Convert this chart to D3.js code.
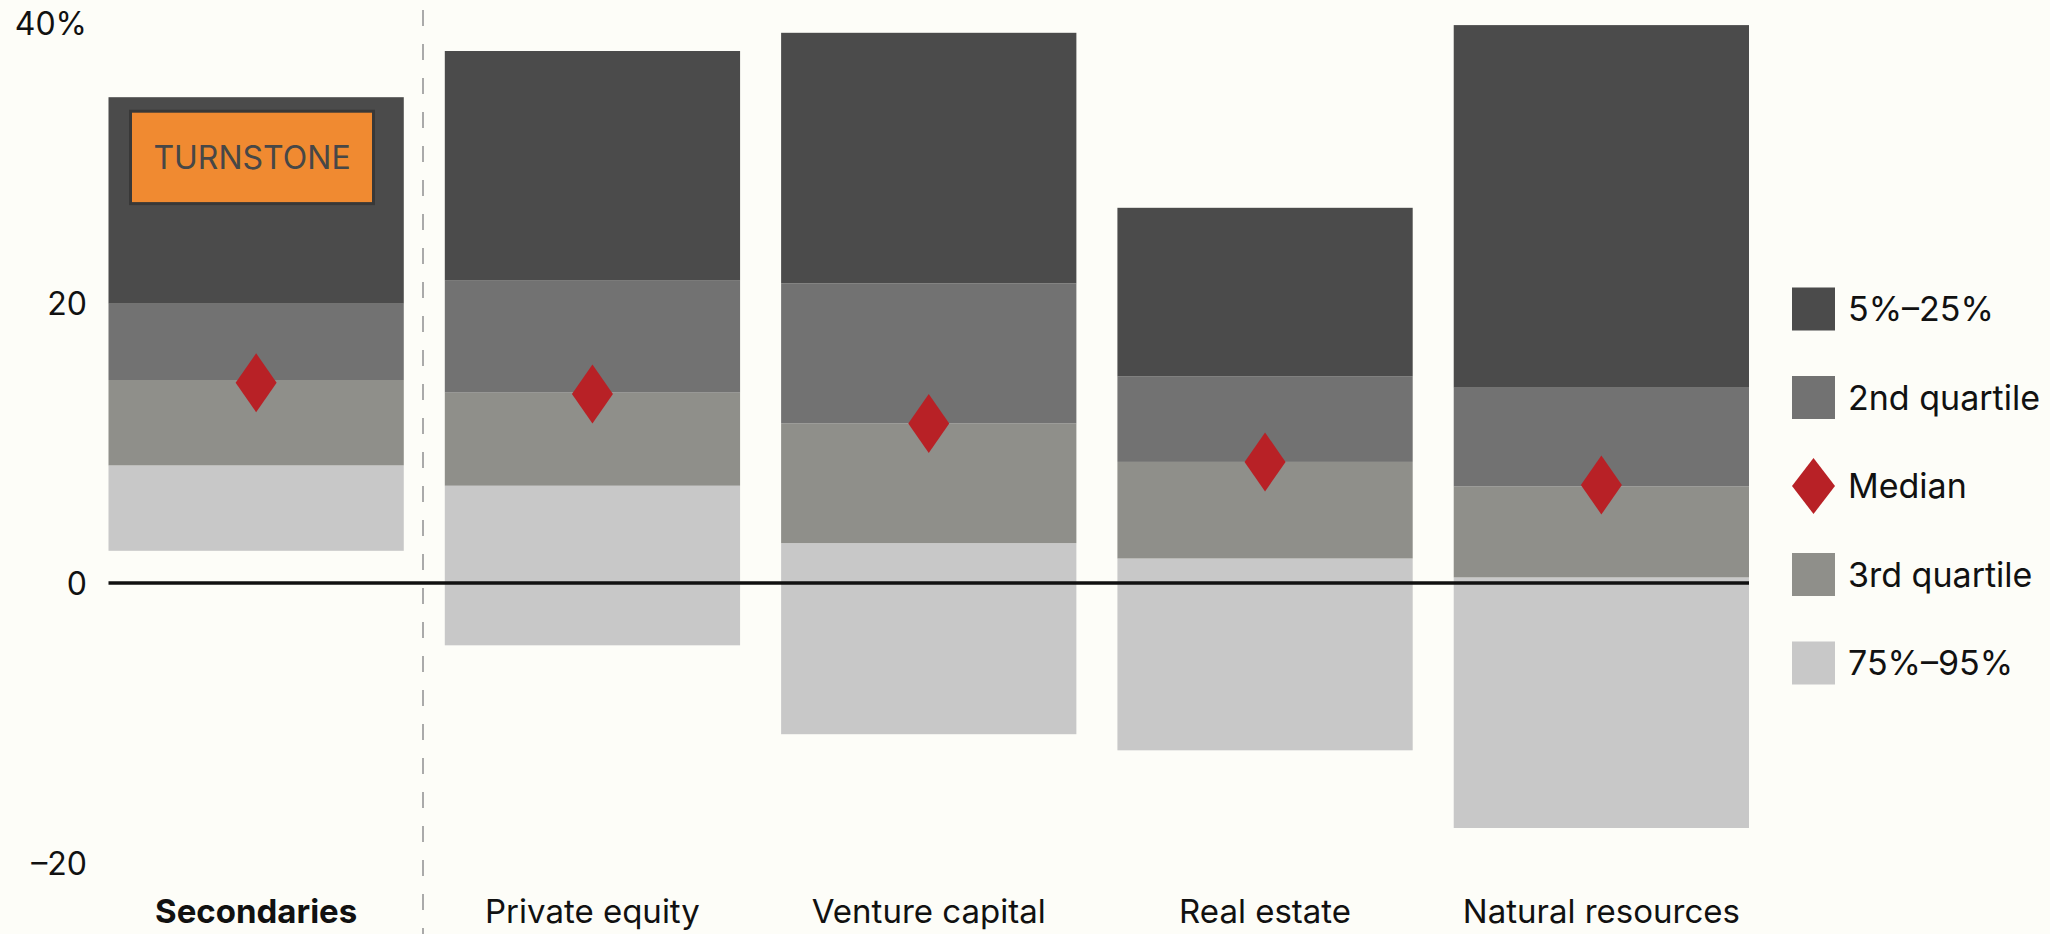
<!DOCTYPE html>
<meta charset="utf-8">
<script src="https://cdn.jsdelivr.net/npm/d3@7"></script>
<style>
body { margin: 0; background: #fdfdf8; }
svg { display: block; font-family: Inter, "Liberation Sans", sans-serif; }
.tick-label { font-size: 32px; fill: #111; }
.cat-label { font-size: 33px; fill: #111; }
.legend text { font-size: 34px; fill: #111; }
</style>
<body>
<script>

let width = 2050,
    height = 934;

// values, in %
let categories = ["Secondaries", "Private equity", "Venture capital", "Real estate", "Natural resources"];
let p95 = [2.3, -4.45, -10.8, -11.95, -17.5];
let p75 = [8.4, 6.95, 2.85, 1.75, 0.4];
let p50 = [14.5, 13.6, 11.4, 8.65, 6.9];
let p25 = [19.95, 21.6, 21.4, 14.75, 13.95];
let p5  = [34.7, 38.0, 39.3, 26.8, 39.85];
let medians = [14.3, 13.5, 11.4, 8.65, 7.0];

let ticks = [40, 20, 0, -20];
let legendLabels = ["5%–25%", "2nd quartile", "Median", "3rd quartile", "75%–95%"];
let bandColors = ["#c8c8c8", "#8f8f8a", "#727272", "#4b4b4b"]; // bottom to top

let svg = d3.select("body").append("svg")
    .attr("width", width)
    .attr("height", height);

svg.append("rect")
    .attr("width", width)
    .attr("height", height)
    .attr("fill", "#fdfdf8");

let x = d3.scaleBand()
    .domain(categories)
    .range([108.5, 1749])
    .paddingInner(0.122)
    .paddingOuter(0);

let y = d3.scaleLinear()
    .domain([-20, 40])
    .range([863, 23]);

// separator between secondaries and the rest
svg.append("line")
    .attr("x1", 423).attr("x2", 423)
    .attr("y1", 10).attr("y2", height)
    .attr("stroke", "#aaa")
    .attr("stroke-width", 2)
    .attr("stroke-dasharray", "16,18");

// stacked bands for each category
let segs = [];
categories.forEach(function(c, i) {
  let edges = [p95[i], p75[i], p50[i], p25[i], p5[i]];
  for (let k = 0; k < 4; k++) {
    segs.push({cat: c, lo: edges[k], hi: edges[k + 1], k: k});
  }
});

svg.selectAll(".seg")
    .data(segs)
    .enter().append("rect")
    .attr("class", "seg")
    .attr("x", function(d) { return x(d.cat); })
    .attr("width", x.bandwidth())
    .attr("y", function(d) { return y(d.hi); })
    .attr("height", function(d) { return y(d.lo) - y(d.hi); })
    .attr("fill", function(d) { return bandColors[d.k]; });

// zero line
svg.append("line")
    .attr("x1", x.range()[0]).attr("x2", x.range()[1])
    .attr("y1", y(0)).attr("y2", y(0))
    .attr("stroke", "#111")
    .attr("stroke-width", 3.5);

// median diamonds
let diamond = function(cx, cy, w, h) {
  return `M${cx},${cy - h / 2}L${cx + w / 2},${cy}L${cx},${cy + h / 2}L${cx - w / 2},${cy}Z`;
};

svg.selectAll(".median")
    .data(medians)
    .enter().append("path")
    .attr("class", "median")
    .attr("d", function(d, i) { return diamond(x(categories[i]) + x.bandwidth() / 2, y(d), 41, 59); })
    .attr("fill", "#b82126");

// y axis labels
svg.selectAll(".tick-label")
    .data(ticks)
    .enter().append("text")
    .attr("class", "tick-label")
    .attr("x", 87)
    .attr("y", function(d) { return y(d); })
    .attr("dy", "0.36em")
    .attr("text-anchor", "end")
    .text(function(d) { return d === 40 ? "40%" : (d < 0 ? "–" + Math.abs(d) : d); });

// category labels
svg.selectAll(".cat-label")
    .data(categories)
    .enter().append("text")
    .attr("class", "cat-label")
    .attr("x", function(d) { return x(d) + x.bandwidth() / 2; })
    .attr("y", 923)
    .attr("text-anchor", "middle")
    .attr("font-weight", function(d, i) { return i === 0 ? 700 : 400; })
    .text(function(d) { return d; });

// turnstone tag
let sx = x(categories[0]);
svg.append("rect")
    .attr("x", sx + 22)
    .attr("y", y(33.7))
    .attr("width", 243)
    .attr("height", y(27.1) - y(33.7))
    .attr("fill", "#f08a31")
    .attr("stroke", "#383838")
    .attr("stroke-width", 3);

svg.append("text")
    .attr("x", sx + 22 + 243 / 2)
    .attr("y", (y(33.7) + y(27.1)) / 2)
    .attr("dy", "0.36em")
    .attr("text-anchor", "middle")
    .attr("font-size", 32)
    .attr("fill", "#474747")
    .text("TURNSTONE");

// legend
let legend = svg.append("g")
    .attr("class", "legend")
    .attr("transform", "translate(1792,309)");

let item = legend.selectAll("g")
    .data(legendLabels)
    .enter().append("g")
    .attr("transform", function(d, i) { return "translate(0," + (i * 88.5) + ")"; });

item.each(function(d, i) {
  let g = d3.select(this);
  if (d === "Median") {
    g.append("path")
      .attr("d", diamond(21.5, 0, 43, 56))
      .attr("fill", "#b82126");
  } else {
    let ci = {"5%–25%": 3, "2nd quartile": 2, "3rd quartile": 1, "75%–95%": 0}[d];
    g.append("rect")
      .attr("x", 0).attr("y", -21.5)
      .attr("width", 43).attr("height", 43)
      .attr("fill", bandColors[ci]);
  }
  g.append("text")
    .attr("x", 56)
    .attr("dy", "0.36em")
    .text(d);
});

</script>
